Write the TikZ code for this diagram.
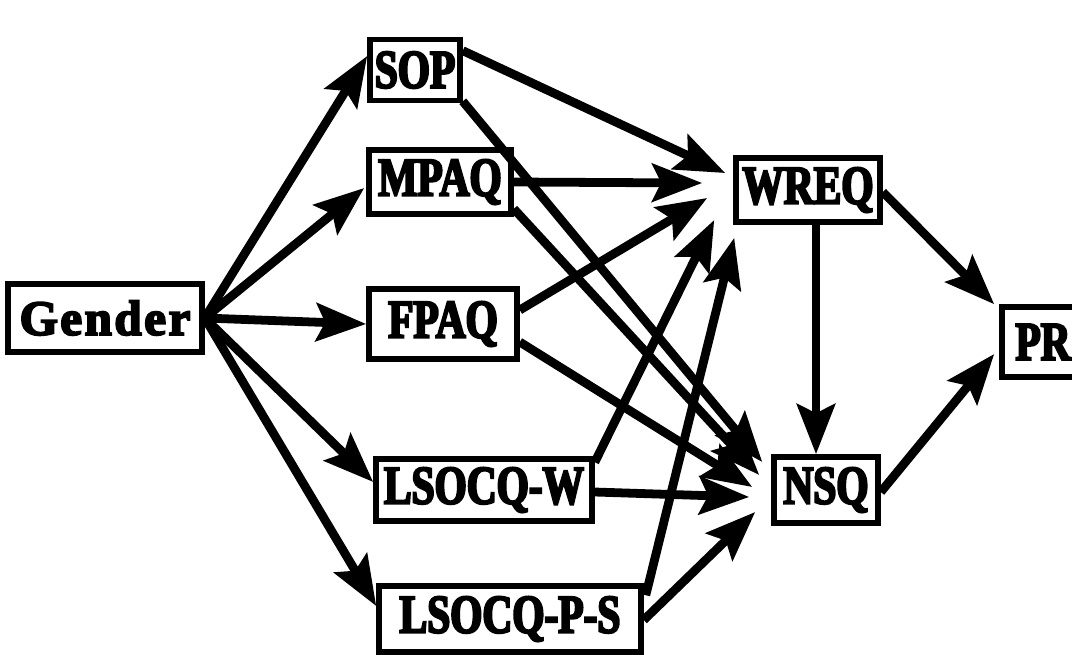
\documentclass[tikz,border=0pt]{standalone}
\usepackage{fontspec}
\setmainfont{Liberation Serif}
\newfontfamily\condfont[FakeStretch=0.76,FakeBold=4]{Liberation Serif}
\newfontfamily\genfont[FakeBold=4,LetterSpace=5]{Liberation Serif}
\usetikzlibrary{arrows.meta,calc}
\begin{document}
\begin{tikzpicture}[x=0.02cm,y=-0.02cm,
  box/.style={draw, line width=3.2pt, inner sep=0pt,
    font=\condfont\bfseries\fontsize{31}{33}\selectfont},
  arr/.style={line width=5pt, -{Stealth[length=1.0cm,width=0.76cm,inset=0.18cm]}}
]
\clip (0,0) rectangle (1072,654);
\fill[white] (0,0) rectangle (1072,654);
% nodes
\node[box, minimum width=3.88cm, minimum height=1.36cm,
  font=\genfont\bfseries\fontsize{28}{30}\selectfont] (G) at (105,318) {Gender};
\node[box, minimum width=1.80cm, minimum height=1.22cm] (SOP) at (415,70) {SOP};
\node[box, minimum width=2.84cm, minimum height=1.28cm] (MPAQ) at (440,182) {MPAQ};
\node[box, minimum width=2.96cm, minimum height=1.40cm] (FPAQ) at (443,324) {FPAQ};
\node[box, minimum width=4.32cm, minimum height=1.24cm] (LW) at (484,490) {LSOCQ-W};
\node[box, minimum width=5.24cm, minimum height=1.32cm] (LPS) at (510,619) {LSOCQ-P-S};
\node[box, minimum width=2.88cm, minimum height=1.28cm] (WREQ) at (808,190) {WREQ};
\node[box, minimum width=2.08cm, minimum height=1.32cm] (NSQ) at (826,490) {NSQ};
\node[box, minimum width=1.64cm, minimum height=1.40cm] (PR) at (1043,342) {PR};
\coordinate (ws) at ($(WREQ.south)+(8,0)$);
% Gender arrows
\draw[arr] (G.east) -- ($(SOP.west)+(0,-14)$);
\draw[arr] (G.east) -- ($(MPAQ.west)+(-2,6)$);
\draw[arr] (G.east) -- (FPAQ.west);
\draw[arr] (G.east) -- ($(LW.west)+(0,-8)$);
\draw[arr] (G.east) -- ($(LPS.west)+(0,-13)$);
% to WREQ
\draw[arr] ($(SOP.north east)+(0,14)$) -- ($(WREQ.west)+(-8,-17)$);
\draw[arr] (MPAQ.east) -- ($(WREQ.west)+(-31,-7)$);
\draw[arr] ($(FPAQ.east)+(0,-14)$) -- ($(WREQ.west)+(-26,8)$);
\draw[arr] ($(LW.north east)+(0,6)$) -- ($(WREQ.west)+(-19,30)$);
\draw[arr] ($(LPS.north east)+(2,12)$) -- ($(WREQ.south west)+(1,13)$);
% to NSQ
\draw[arr] ($(SOP.south east)+(0,-2)$) -- ($(NSQ.west)+(-9,-28)$);
\draw[arr] ($(MPAQ.south east)+(0,-8)$) -- ($(NSQ.west)+(-12,-15)$);
\draw[arr] ($(FPAQ.east)+(0,18)$) -- ($(NSQ.west)+(-19,-3)$);
\draw[arr] ($(LW.east)+(0,2)$) -- ($(NSQ.west)+(-22,7)$);
\draw[arr] ($(LPS.east)+(0,1)$) -- ($(NSQ.west)+(-16,22)$);
% WREQ, NSQ, PR
\draw[arr] (ws) -- (ws |- NSQ.north);
\draw[arr] ($(WREQ.east)+(0,2)$) -- ($(PR.north west)+(-5,0)$);
\draw[arr] ($(NSQ.east)+(0,2)$) -- ($(PR.west)+(-5,12)$);
\end{tikzpicture}
\end{document}
